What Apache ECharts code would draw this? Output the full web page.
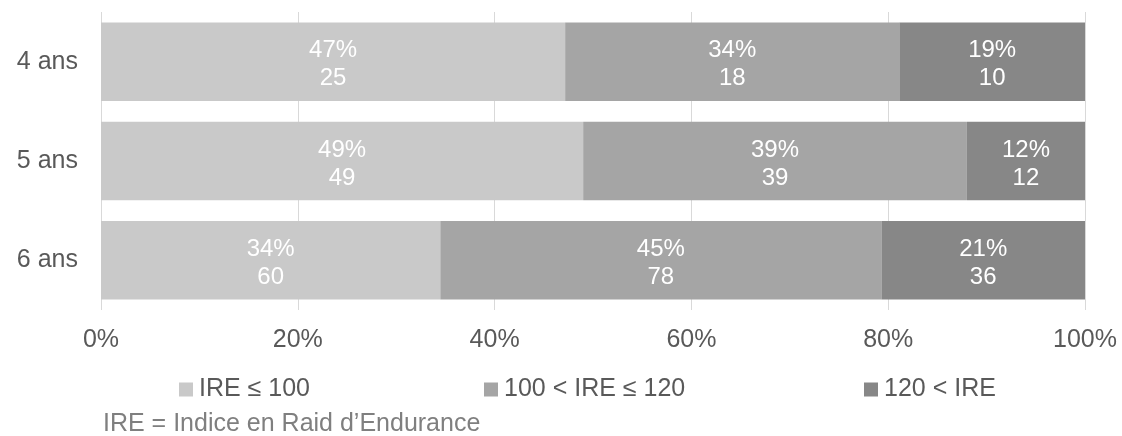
<!DOCTYPE html>
<html>
<head>
<meta charset="utf-8">
<script src="https://cdn.jsdelivr.net/npm/echarts@6/dist/echarts.min.js"></script>
<style>html,body{margin:0;padding:0;background:#fff}#c{width:1122px;height:436px}</style>
</head>
<body>
<div id="c"></div>
<script>
const categories = ['4 ans', '5 ans', '6 ans'];
const seriesNames = ['IRE ≤ 100', '100 < IRE ≤ 120', '120 < IRE'];
const lowCounts = [25, 49, 60];
const midCounts = [18, 39, 78];
const highCounts = [10, 12, 36];
const xTickLabels = ['0%', '20%', '40%', '60%', '80%', '100%'];
const colors = ['#c9c9c9', '#a5a5a5', '#878787'];
const footnote = 'IRE = Indice en Raid d\u2019Endurance';

const allCounts = [lowCounts, midCounts, highCounts];
const totals = categories.map((_, i) => allCounts.reduce((s, a) => s + a[i], 0));
const FONT = '"Liberation Sans", Arial, sans-serif';

const series = allCounts.map((arr, k) => ({
  name: seriesNames[k],
  type: 'bar',
  stack: 'total',
  barCategoryGap: '21%',
  itemStyle: { color: colors[k] },
  label: {
    show: true,
    position: 'inside',
    offset: [0, 3],
    color: '#ffffff',
    fontFamily: FONT,
    fontSize: 24,
    lineHeight: 28,
    formatter: p => Math.round(p.value * 100) + '%\n' + arr[p.dataIndex]
  },
  data: arr.map((v, i) => v / totals[i])
}));

const legends = seriesNames.map((n, k) => ({
  data: [n],
  left: [179, 484, 864][k],
  top: 377,
  itemWidth: 14,
  itemHeight: 14,
  itemGap: 0,
  icon: 'rect',
  textStyle: { fontFamily: FONT, fontSize: 25, color: '#595959', padding: [0, 0, 0, 1] },
  padding: 0
}));

const chart = echarts.init(document.getElementById('c'));
chart.setOption({
  animation: false,
  color: colors,
  grid: { left: 101, right: 37, top: 12, bottom: 126 },
  xAxis: {
    type: 'value', min: 0, max: 1, interval: 0.2,
    axisLine: { show: false }, axisTick: { show: false },
    splitLine: { lineStyle: { color: '#d9d9d9', width: 1 } },
    axisLabel: {
      margin: 18, fontFamily: FONT, fontSize: 25, color: '#595959',
      formatter: v => xTickLabels[Math.round(v * 5)]
    }
  },
  yAxis: {
    type: 'category', data: categories, inverse: true,
    axisLine: { show: false }, axisTick: { show: false },
    axisLabel: { margin: 23, fontFamily: FONT, fontSize: 25, color: '#595959' }
  },
  legend: legends,
  graphic: [{
    type: 'text', left: 103, top: 412,
    style: { text: footnote, fontFamily: FONT, fontSize: 25, fill: '#7f7f7f' }
  }],
  series: series
});
</script>
</body>
</html>
